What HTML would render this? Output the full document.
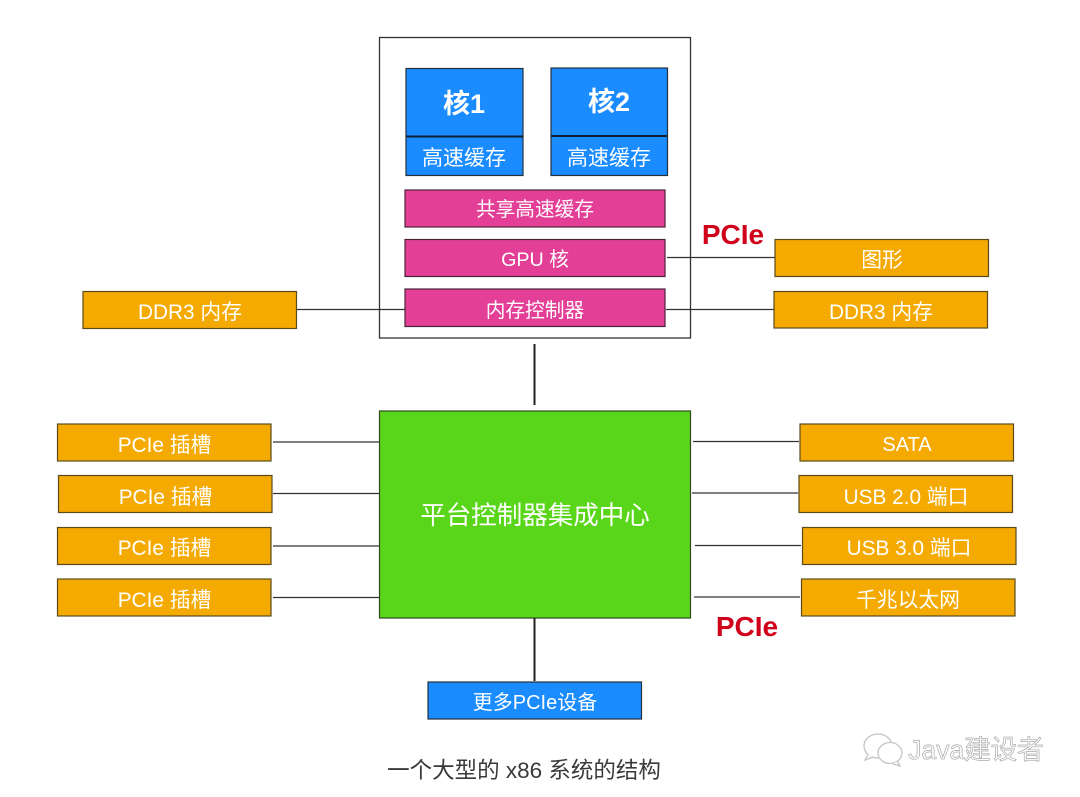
<!DOCTYPE html>
<html><head><meta charset="utf-8"><style>
html,body{margin:0;padding:0;background:#fff}
svg{display:block}
text{font-family:"Liberation Sans","Noto Sans CJK SC",sans-serif;text-anchor:middle;fill:#fff}
.b{fill:#1a8cff;stroke:#24303c;stroke-width:1.2}
.p{fill:#e43f96;stroke:#4a2238;stroke-width:1.2}
.o{fill:#f4aa00;stroke:#5a4a1c;stroke-width:1.2}
.l{stroke:#333;stroke-width:1.2}
.t{font-size:20.800px}
.m{font-size:19.700px}
</style></head><body>
<svg width="1080" height="797" viewBox="0 0 1080 797">
<rect x="379.500" y="37.500" width="311" height="300.500" fill="#fff" stroke="#333" stroke-width="1.300"/>
<rect class="b" x="406" y="68.500" width="117" height="107"/>
<rect class="b" x="551" y="68" width="116.500" height="107.500"/>
<line x1="406" y1="136.500" x2="523" y2="136.500" stroke="#10202e" stroke-width="2"/>
<line x1="551" y1="136" x2="667" y2="136" stroke="#10202e" stroke-width="2"/>
<text x="464" y="113" font-size="27" font-weight="bold">核1</text>
<text x="609" y="111" font-size="27" font-weight="bold">核2</text>
<text x="464" y="165" font-size="21">高速缓存</text>
<text x="609" y="165" font-size="21">高速缓存</text>
<rect class="p" x="405" y="190" width="260" height="37"/>
<rect class="p" x="405" y="239.500" width="260" height="37"/>
<rect class="p" x="405" y="289" width="260" height="37.500"/>
<text class="m" x="535" y="216">共享高速缓存</text>
<text class="m" x="535" y="266">GPU 核</text>
<text class="m" x="535" y="317">内存控制器</text>
<line class="l" x1="667" y1="257.500" x2="775" y2="257.500"/>
<line class="l" x1="666" y1="309.500" x2="774" y2="309.500"/>
<line class="l" x1="297" y1="309.500" x2="405" y2="309.500"/>
<text x="733" y="244" font-size="28" font-weight="bold" style="fill:#d0021b">PCIe</text>
<rect class="o" x="775" y="239.500" width="213.500" height="37"/>
<rect class="o" x="774" y="291.500" width="213.500" height="36.500"/>
<rect class="o" x="83" y="291.500" width="213.500" height="37"/>
<text class="t" x="882" y="267">图形</text>
<text class="t" x="881" y="319">DDR3 内存</text>
<text class="t" x="190" y="319">DDR3 内存</text>
<line x1="534.500" y1="344" x2="534.500" y2="405" stroke="#222" stroke-width="2"/>
<rect x="379.500" y="411" width="311" height="207" fill="#5ad61a" stroke="#2f4a20" stroke-width="1.200"/>
<text x="535" y="524" font-size="25.500">平台控制器集成中心</text>
<line class="l" x1="273" y1="442" x2="379" y2="442"/>
<line class="l" x1="273" y1="493.500" x2="379" y2="493.500"/>
<line class="l" x1="273" y1="546" x2="379" y2="546"/>
<line class="l" x1="273" y1="597.500" x2="379" y2="597.500"/>
<line class="l" x1="693" y1="441.500" x2="799" y2="441.500"/>
<line class="l" x1="692" y1="493" x2="798" y2="493"/>
<line class="l" x1="695" y1="545.500" x2="801" y2="545.500"/>
<line class="l" x1="694" y1="597" x2="800" y2="597"/>
<rect class="o" x="57.500" y="424" width="213.500" height="37"/>
<rect class="o" x="58.500" y="475.500" width="213.500" height="37"/>
<rect class="o" x="57.500" y="527.500" width="213.500" height="37"/>
<rect class="o" x="57.500" y="579" width="213.500" height="37"/>
<text class="t" x="164.500" y="452">PCIe 插槽</text>
<text class="t" x="165.500" y="504">PCIe 插槽</text>
<text class="t" x="164.500" y="555">PCIe 插槽</text>
<text class="t" x="164.500" y="607">PCIe 插槽</text>
<rect class="o" x="800" y="424" width="213.500" height="37"/>
<rect class="o" x="799" y="475.500" width="213.500" height="37"/>
<rect class="o" x="802.500" y="527.500" width="213.500" height="37"/>
<rect class="o" x="801.500" y="579" width="213.500" height="37"/>
<text class="t" x="907" y="451" style="font-size:20px">SATA</text>
<text class="t" x="906" y="504">USB 2.0 端口</text>
<text class="t" x="909" y="555">USB 3.0 端口</text>
<text class="t" x="908" y="607">千兆以太网</text>
<text x="747" y="636" font-size="28" font-weight="bold" style="fill:#d0021b">PCIe</text>
<line x1="534.500" y1="618" x2="534.500" y2="681" stroke="#222" stroke-width="2"/>
<rect class="b" x="428" y="682" width="213.500" height="37"/>
<text x="535" y="709" font-size="20">更多PCIe设备</text>
<text x="524" y="778" font-size="22.500" style="fill:#3a3a3a">一个大型的 x86 系统的结构</text>
<g fill="#fff" stroke="#c4c4c4" stroke-width="1.300">
<ellipse cx="878" cy="746" rx="14" ry="12"/>
<path d="M868 754l-3 6 8-3"/>
<ellipse cx="890" cy="753" rx="12" ry="10.500"/>
<path d="M897 761l3 5-7-2"/>
</g>
<text x="976" y="759" font-size="26.500" style="fill:#fff;stroke:#aaa;stroke-width:.7">Java建设者</text>
</svg>
</body></html>
